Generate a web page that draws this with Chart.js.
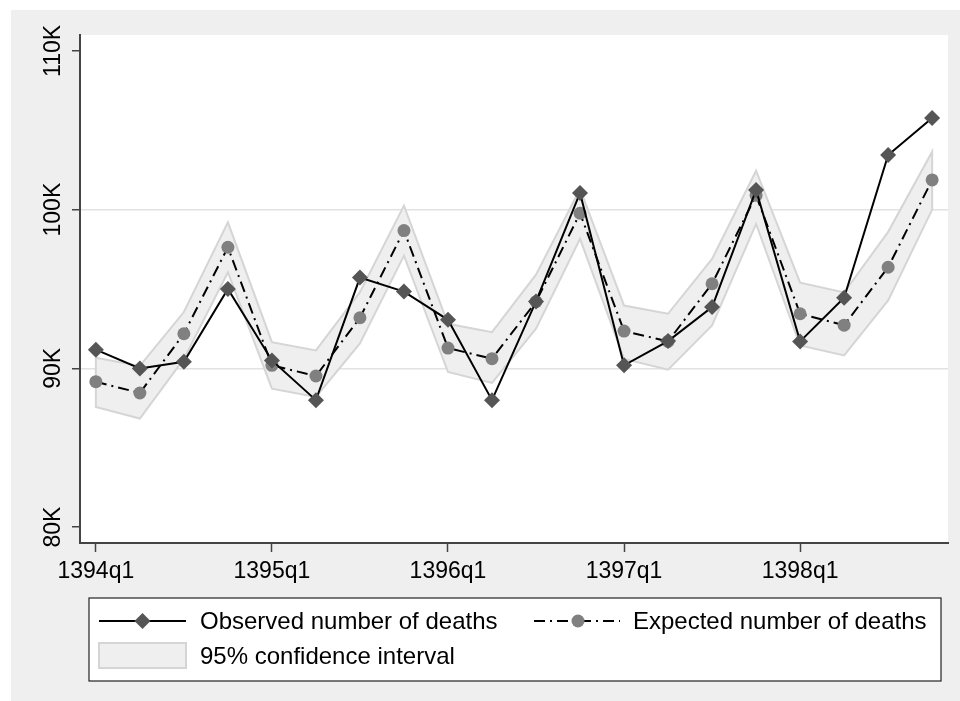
<!DOCTYPE html>
<html>
<head>
<meta charset="utf-8">
<script src="https://cdn.jsdelivr.net/npm/chart.js@4.4.1/dist/chart.umd.min.js"></script>
<style>
  html, body { margin: 0; padding: 0; background: #ffffff; }
  #wrap { width: 960px; height: 701px; position: relative; }
  canvas { display: block; }
</style>
</head>
<body>
<div id="wrap"><canvas id="c" width="960" height="701"></canvas></div>
<script>
// ---- Data ----
const quarters = ['1394q1','1394q2','1394q3','1394q4','1395q1','1395q2','1395q3','1395q4',
                  '1396q1','1396q2','1396q3','1396q4','1397q1','1397q2','1397q3','1397q4',
                  '1398q1','1398q2','1398q3','1398q4'];
const observedDeaths = [91180, 90000, 90420, 95000, 90500, 88000, 95720, 94840, 93060, 88000,
                        94220, 101050, 90190, 91720, 93860, 101240, 91700, 94450, 103440, 105770];
const expectedDeaths = [89160, 88450, 92180, 97630, 90190, 89520, 93190, 98680, 91280, 90610,
                        94200, 99770, 92350, 91700, 95330, 100900, 93440, 92720, 96370, 101870];
const ciUpper = [90670, 90150, 93550, 99200, 91650, 91130, 94800, 100250, 92810, 92280,
                 95900, 101300, 93960, 93440, 96900, 102450, 95400, 94780, 98600, 103650];
const ciLower = [87570, 86840, 90600, 96060, 88720, 88200, 91570, 97100, 89770, 89080,
                 92500, 98160, 90600, 89920, 92700, 99100, 91450, 90820, 94280, 100000];
const xTickIndex = [0, 4, 8, 12, 16];
const xTickLabels = ['1394q1', '1395q1', '1396q1', '1397q1', '1398q1'];
const yTickValues = [80000, 90000, 100000, 110000];
const yTickLabels = ['80K', '90K', '100K', '110K'];
const yGridValues = [90000, 100000];
const seriesLabels = ['Observed number of deaths', 'Expected number of deaths', '95% confidence interval'];

// ---- Styles ----
const FONT = "'Liberation Sans', Arial, sans-serif";
const OUTER_BG = '#efefef';
const BAND_FILL = '#efefef';
const BAND_LINE = '#d5d5d5';
const DIAMOND = '#555555';
const CIRCLE = '#808080';
const DASHDOT = [11, 5, 2, 5];

const toPoints = arr => arr.map((v, i) => ({ x: i, y: v }));
const bandPolygon = toPoints(ciUpper)
  .concat(toPoints(ciLower).reverse())
  .concat([{ x: 0, y: ciUpper[0] }]);

const bgPlugin = {
  id: 'stataBg',
  beforeDraw(chart) {
    const ctx = chart.ctx, a = chart.chartArea;
    ctx.save();
    ctx.fillStyle = '#ffffff';
    ctx.fillRect(0, 0, chart.width, chart.height);
    ctx.fillStyle = OUTER_BG;
    ctx.fillRect(11, 10, chart.width - 11, chart.height - 10);
    ctx.fillStyle = '#ffffff';
    ctx.fillRect(a.left, a.top, a.right - a.left, a.bottom - a.top);
    ctx.restore();
  }
};

const legendPlugin = {
  id: 'stataLegend',
  afterDraw(chart) {
    const ctx = chart.ctx;
    const ds = chart.data.datasets;
    ctx.save();
    // box
    ctx.fillStyle = '#ffffff';
    ctx.fillRect(89, 598, 852, 83);
    ctx.strokeStyle = '#222222';
    ctx.lineWidth = 1.2;
    ctx.strokeRect(89, 598, 852, 83);

    const r1 = 621, r2 = 656;
    // observed symbol
    ctx.strokeStyle = '#000';
    ctx.lineWidth = 2;
    ctx.setLineDash([]);
    ctx.beginPath(); ctx.moveTo(99, r1); ctx.lineTo(186, r1); ctx.stroke();
    ctx.fillStyle = DIAMOND;
    ctx.beginPath();
    ctx.moveTo(142.5, r1 - 8); ctx.lineTo(150.5, r1); ctx.lineTo(142.5, r1 + 8); ctx.lineTo(134.5, r1);
    ctx.closePath(); ctx.fill();
    // expected symbol
    ctx.setLineDash(DASHDOT);
    ctx.beginPath(); ctx.moveTo(534, r1); ctx.lineTo(620, r1); ctx.stroke();
    ctx.setLineDash([]);
    ctx.fillStyle = CIRCLE;
    ctx.beginPath(); ctx.arc(578, r1, 6.5, 0, Math.PI * 2); ctx.fill();
    // band symbol
    ctx.fillStyle = BAND_FILL;
    ctx.fillRect(99, 643, 87, 25);
    ctx.strokeStyle = BAND_LINE;
    ctx.lineWidth = 2;
    ctx.strokeRect(99, 643, 87, 25);
    // texts
    ctx.fillStyle = '#000';
    ctx.font = '24px ' + FONT;
    ctx.textBaseline = 'middle';
    ctx.textAlign = 'left';
    ctx.fillText(ds[0].label, 200, r1 + 1);
    ctx.fillText(ds[1].label, 633, r1 + 1);
    ctx.fillText(ds[2].label, 200, r2 + 1);
    ctx.restore();
  }
};

new Chart(document.getElementById('c'), {
  type: 'line',
  data: {
    labels: quarters,
    datasets: [
      {
        label: seriesLabels[0],
        data: toPoints(observedDeaths),
        order: 0,
        borderColor: '#000000',
        borderWidth: 2,
        pointStyle: 'rectRot',
        pointRadius: 8,
        pointBackgroundColor: DIAMOND,
        pointBorderColor: DIAMOND,
        pointBorderWidth: 0,
        tension: 0,
        fill: false
      },
      {
        label: seriesLabels[1],
        data: toPoints(expectedDeaths),
        order: 1,
        borderColor: '#000000',
        borderWidth: 2,
        borderDash: DASHDOT,
        pointStyle: 'circle',
        pointRadius: 6.5,
        pointBackgroundColor: CIRCLE,
        pointBorderColor: CIRCLE,
        pointBorderWidth: 0,
        tension: 0,
        fill: false
      },
      {
        label: seriesLabels[2],
        data: bandPolygon,
        order: 2,
        borderColor: BAND_LINE,
        borderWidth: 2,
        backgroundColor: BAND_FILL,
        pointRadius: 0,
        tension: 0,
        fill: 'shape'
      }
    ]
  },
  options: {
    responsive: false,
    animation: false,
    devicePixelRatio: 1,
    layout: { padding: { left: 11, top: 35, right: 12, bottom: 108 } },
    plugins: { legend: { display: false }, tooltip: { enabled: false } },
    scales: {
      x: {
        type: 'linear',
        min: -0.36,
        max: 19.36,
        afterBuildTicks: s => { s.ticks = xTickIndex.map(v => ({ value: v })); },
        afterFit: s => { s.height = 50; },
        ticks: {
          callback: v => xTickLabels[xTickIndex.indexOf(v)],
          autoSkip: false, minRotation: 0, maxRotation: 0,
          padding: 6,
          color: '#000',
          font: { family: FONT, size: 23 }
        },
        grid: { drawOnChartArea: false, drawTicks: true, tickLength: 9, tickColor: '#444', tickWidth: 1.5 },
        border: { display: true, color: '#444', width: 2 }
      },
      y: {
        type: 'linear',
        min: 79000,
        max: 111000,
        afterBuildTicks: s => { s.ticks = yTickValues.map(v => ({ value: v })); },
        afterFit: s => { s.width = 69; },
        ticks: {
          callback: v => yTickLabels[yTickValues.indexOf(v)],
          minRotation: 90, maxRotation: 90,
          crossAlign: 'center',
          padding: -9,
          color: '#000',
          font: { family: FONT, size: 23 }
        },
        grid: {
          color: c => (c.tick && yGridValues.includes(c.tick.value)) ? '#e2e2e2' : 'rgba(0,0,0,0)',
          lineWidth: 1.5,
          drawTicks: true, tickLength: 8, tickColor: '#444', tickWidth: 1.5
        },
        border: { display: true, color: '#444', width: 2 }
      }
    }
  },
  plugins: [bgPlugin, legendPlugin]
});
</script>
</body>
</html>
